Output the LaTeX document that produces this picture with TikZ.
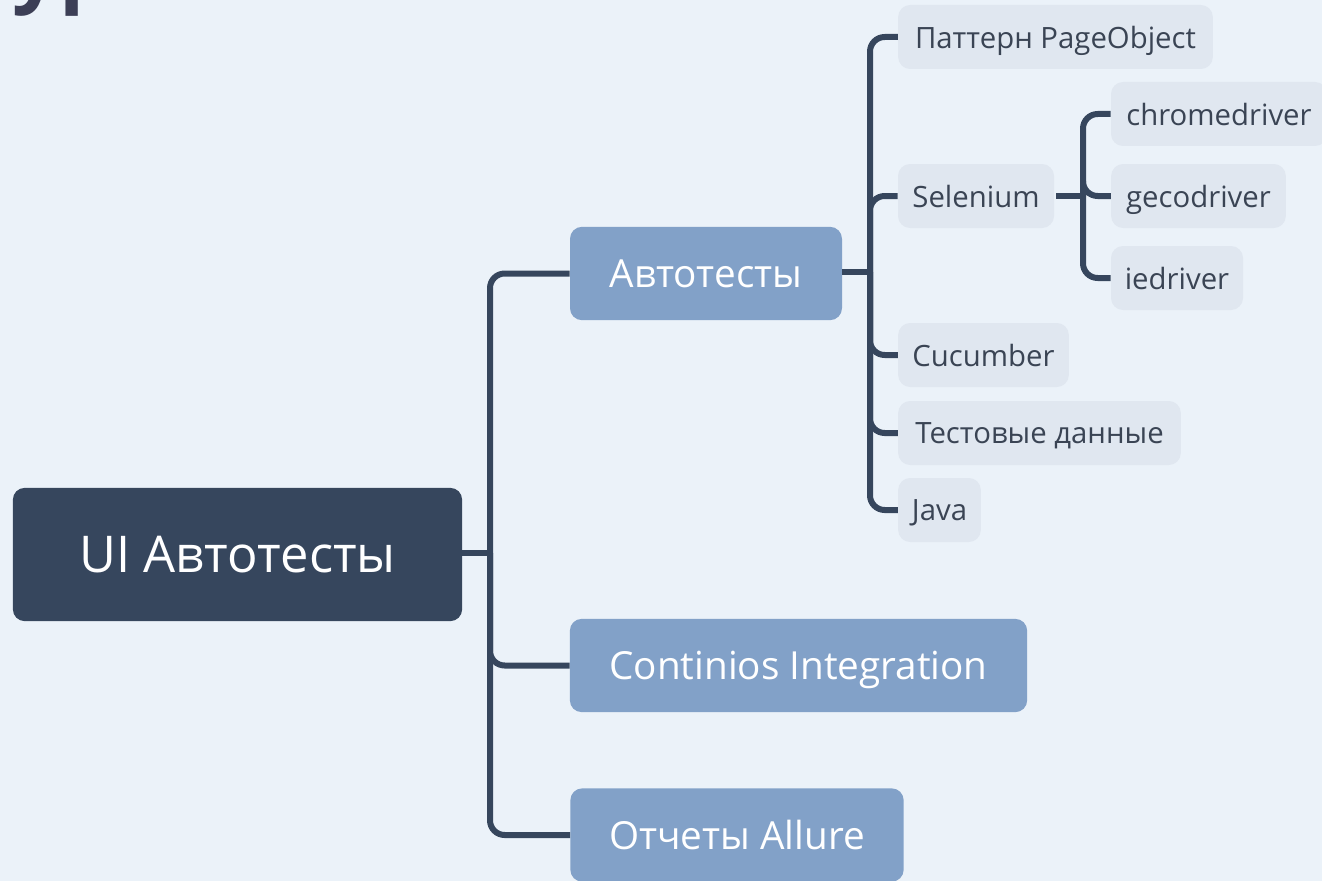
\documentclass[tikz,border=0pt]{standalone}
\usepackage{fontspec}
\setmainfont{Open Sans}
\definecolor{bgc}{RGB}{235,242,249}
\definecolor{darkc}{RGB}{54,70,93}
\definecolor{midc}{RGB}{130,161,200}
\definecolor{lightc}{RGB}{224,231,240}
\definecolor{txtc}{RGB}{58,68,84}
\definecolor{titlec}{RGB}{60,63,86}
\tikzset{
  rootbox/.style={fill=darkc, text=white, rounded corners=9pt, inner sep=0pt, text depth=0pt, font=\fontsize{38}{44}\selectfont},
  midbox/.style={fill=midc, text=white, rounded corners=9pt, inner sep=0pt, text depth=0pt, minimum height=70pt, font=\fontsize{29}{34}\selectfont},
  leafbox/.style={fill=lightc, text=txtc, rounded corners=9pt, inner sep=0pt, text depth=0pt, minimum height=48pt, font=\fontsize{22}{26}\selectfont},
  conn/.style={draw=darkc, line width=4.5pt, rounded corners=11pt},
}
\begin{document}
\begin{tikzpicture}[x=0.75pt, y=-0.75pt]
\fill[bgc] (0,0) rectangle (1322,881);
\useasboundingbox (0,0) rectangle (1322,881);
\begin{scope}
\clip (0,0) rectangle (1322,881);
\node[anchor=base west, inner sep=0pt, text=titlec, font=\fontsize{62}{70}\selectfont\bfseries] (title) at (12,-3) {ур};
% connectors
\coordinate (jr) at (490,553);
\coordinate (ja) at (870,272);
\coordinate (js) at (1083,196);
% nodes
\node[rootbox, minimum width=337pt, minimum height=100pt] (root) at (237.5,554.5) {UI Автотесты};
\node[midbox, minimum width=204pt] (avt) at (706,273.5) {Автотесты};
\node[midbox, minimum width=343pt] (ci) at (798.5,665.5) {Continios Integration};
\node[midbox, minimum width=250pt] (al) at (737,835) {Отчеты Allure};
\node[leafbox, minimum width=236pt] (po) at (1055.5,37) {Паттерн PageObject};
\node[leafbox, minimum width=117pt] (sel) at (976,196) {Selenium};
\node[leafbox, minimum width=128pt] (cuc) at (983.5,355) {Cucumber};
\node[leafbox, minimum width=212pt] (td) at (1039.5,433) {Тестовые данные};
\node[leafbox, minimum width=62pt] (java) at (939.5,510) {Java};
\node[leafbox, minimum width=162pt] (chr) at (1219,114) {chromedriver};
\node[leafbox, minimum width=131pt] (gec) at (1198.5,196) {gecodriver};
\node[leafbox, minimum width=99pt] (ie) at (1177,278) {iedriver};
\draw[conn] (root.east |- jr) -- (jr);
\foreach \c in {avt,ci,al} \draw[conn] (jr) |- (\c.west);
\draw[conn] (avt.east |- ja) -- (ja);
\foreach \c in {po,sel,cuc,td,java} \draw[conn] (ja) |- (\c.west);
\draw[conn] (sel.east) ++(2,0) -- (js);
\foreach \c in {chr,gec,ie} \draw[conn] (js) |- (\c.west);
\end{scope}
\end{tikzpicture}
\end{document}
